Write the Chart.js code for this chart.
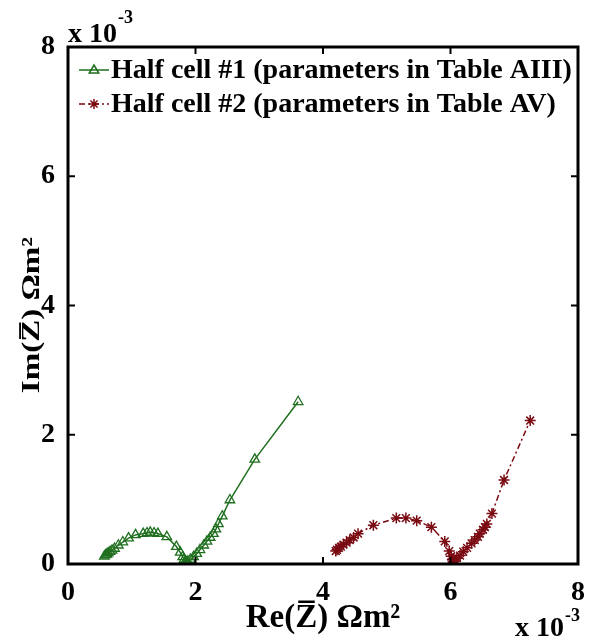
<!DOCTYPE html>
<html>
<head>
<meta charset="utf-8">
<script src="https://cdn.jsdelivr.net/npm/chart.js@4.4.1/dist/chart.umd.min.js"></script>
<style>
html,body{margin:0;padding:0;background:#fff;}
#wrap{width:595px;height:637px;position:relative;}
</style>
</head>
<body>
<div id="wrap"><canvas id="c" width="595" height="637"></canvas></div>
<script>
// Values in units of 1e-3 (as shown by the axis multipliers)
const seriesNames = ['Half cell #1 (parameters in Table AIII)', 'Half cell #2 (parameters in Table AV)'];
const re1 = [0.57,0.59,0.61,0.63,0.66,0.69,0.73,0.79,0.86,0.95,1.06,1.18,1.24,1.29,1.35,1.41,1.55,1.70,1.76,1.80,1.82,1.84,1.85,1.86,1.88,1.92,1.97,2.02,2.07,2.13,2.18,2.23,2.28,2.32,2.36,2.42,2.54,2.93,3.61];
const im1 = [0.12,0.14,0.15,0.17,0.19,0.21,0.24,0.29,0.34,0.40,0.45,0.47,0.48,0.49,0.48,0.47,0.42,0.27,0.18,0.11,0.07,0.04,0.03,0.03,0.04,0.07,0.11,0.16,0.22,0.29,0.35,0.41,0.47,0.54,0.62,0.74,0.99,1.62,2.51];
const re2 = [4.20,4.22,4.25,4.28,4.32,4.37,4.42,4.48,4.55,4.79,5.15,5.30,5.47,5.70,5.91,5.98,6.01,6.03,6.04,6.05,6.07,6.10,6.15,6.20,6.26,6.33,6.38,6.43,6.46,6.51,6.54,6.57,6.65,6.84,7.25];
const im2 = [0.20,0.22,0.25,0.27,0.30,0.33,0.37,0.41,0.47,0.60,0.71,0.71,0.67,0.57,0.35,0.20,0.12,0.07,0.04,0.04,0.06,0.09,0.13,0.19,0.25,0.32,0.37,0.42,0.47,0.53,0.57,0.62,0.78,1.30,2.22];
const xTicks = [0,2,4,6,8];
const yTicks = [0,2,4,6,8];
const xTitle = 'Re(Z\u0305) \u03A9m\u00B2';
const yTitle = 'Im(Z\u0305) \u03A9m\u00B2';
const expBase = 'x 10';
const expPow = '-3';

const GREEN = '#1f6f1f';
const RED = '#7a0a12';
const FONT = '"Liberation Serif","Times New Roman",serif';

const pts = (xs, ys) => xs.map((v,i)=>({x:v, y:ys[i]}));

function drawMarker(ctx, style, x, y, r, color){
  ctx.save();
  ctx.strokeStyle = color; ctx.lineWidth = 1.5; ctx.setLineDash([]);
  ctx.beginPath();
  if(style==='triangle'){
    ctx.moveTo(x, y - r);
    ctx.lineTo(x + r*0.95, y + r*0.6);
    ctx.lineTo(x - r*0.95, y + r*0.6);
    ctx.closePath();
  } else {
    for(let k=0;k<4;k++){
      const a = k*Math.PI/4;
      ctx.moveTo(x - r*Math.cos(a), y - r*Math.sin(a));
      ctx.lineTo(x + r*Math.cos(a), y + r*Math.sin(a));
    }
  }
  ctx.stroke();
  ctx.restore();
}

const decor = {
  id: 'decor',
  afterDraw(chart){
    const {ctx, chartArea: a, scales: {x, y}} = chart;
    ctx.save();
    // box
    ctx.strokeStyle = '#000'; ctx.lineWidth = 3;
    ctx.strokeRect(a.left, a.top, a.right - a.left, a.bottom - a.top);
    // inward ticks
    ctx.lineWidth = 2;
    ctx.beginPath();
    xTicks.forEach(v => {
      const p = x.getPixelForValue(v);
      ctx.moveTo(p, a.bottom); ctx.lineTo(p, a.bottom - 7);
      ctx.moveTo(p, a.top); ctx.lineTo(p, a.top + 7);
    });
    yTicks.forEach(v => {
      const p = y.getPixelForValue(v);
      ctx.moveTo(a.left, p); ctx.lineTo(a.left + 7, p);
      ctx.moveTo(a.right, p); ctx.lineTo(a.right - 7, p);
    });
    ctx.stroke();
    // legend
    const rows = [
      {name: seriesNames[0], color: GREEN, dash: [], marker: 'triangle', y: 78},
      {name: seriesNames[1], color: RED, dash: [6,3,2,3], marker: 'star', y: 112}
    ];
    ctx.font = 'bold 28px ' + FONT;
    ctx.textBaseline = 'alphabetic';
    ctx.textAlign = 'left';
    rows.forEach(r => {
      const ly = r.y - 8;
      ctx.save();
      ctx.strokeStyle = r.color; ctx.lineWidth = 1.5; ctx.setLineDash(r.dash);
      ctx.beginPath(); ctx.moveTo(79, ly); ctx.lineTo(109, ly); ctx.stroke();
      ctx.restore();
      drawMarker(ctx, r.marker, 94, ly, 5, r.color);
      ctx.fillStyle = '#000';
      ctx.fillText(r.name, 111, r.y);
    });
    // axis titles
    ctx.fillStyle = '#000';
    ctx.font = 'bold 33px ' + FONT;
    ctx.textAlign = 'center';
    ctx.fillText(xTitle, (a.left + a.right) / 2, 627);
    ctx.save();
    ctx.translate(39, 315);
    ctx.rotate(-Math.PI / 2);
    ctx.scale(1, 0.74);
    ctx.fillText(yTitle, 0, 0);
    ctx.restore();
    // exponent labels
    ctx.textAlign = 'left';
    ctx.font = 'bold 28px ' + FONT;
    ctx.fillText(expBase, 68, 42);
    let w = ctx.measureText(expBase).width;
    ctx.font = 'bold 18px ' + FONT;
    ctx.fillText(expPow, 68 + w + 1, 23);
    ctx.font = 'bold 28px ' + FONT;
    ctx.fillText(expBase, 515, 636);
    w = ctx.measureText(expBase).width;
    ctx.font = 'bold 18px ' + FONT;
    ctx.fillText(expPow, 515 + w + 1, 621);
    ctx.restore();
  }
};

new Chart(document.getElementById('c'), {
  type: 'line',
  data: {
    datasets: [
      {
        label: seriesNames[0],
        data: pts(re1, im1),
        borderColor: GREEN,
        borderWidth: 1.5,
        pointStyle: 'triangle',
        pointRadius: 5.5,
        pointBorderWidth: 1.3,
        pointBorderColor: GREEN,
        pointBackgroundColor: 'rgba(0,0,0,0)',
        fill: false,
        tension: 0
      },
      {
        label: seriesNames[1],
        data: pts(re2, im2),
        borderColor: RED,
        borderWidth: 1.5,
        borderDash: [6,3,2,3],
        pointStyle: 'star',
        pointRadius: 5.5,
        pointBorderWidth: 1.5,
        pointBorderColor: RED,
        pointBackgroundColor: RED,
        fill: false,
        tension: 0
      }
    ]
  },
  options: {
    responsive: false,
    animation: false,
    layout: {padding: {top: 47, right: 17, left: 0, bottom: 0}},
    plugins: {legend: {display: false}, tooltip: {enabled: false}},
    scales: {
      x: {
        type: 'linear', min: 0, max: 8,
        afterBuildTicks(s){ s.ticks = xTicks.map(v => ({value: v})); },
        afterFit(s){ s.height = 73; },
        grid: {display: false},
        border: {display: false},
        ticks: {color: '#000', padding: 4, font: {family: FONT, weight: 'bold', size: 28}},
        title: {display: false}
      },
      y: {
        type: 'linear', min: 0, max: 8,
        afterBuildTicks(s){ s.ticks = yTicks.map(v => ({value: v})); },
        afterFit(s){ s.width = 68; },
        grid: {display: false},
        border: {display: false},
        ticks: {color: '#000', padding: 5, font: {family: FONT, weight: 'bold', size: 28}},
        title: {display: false}
      }
    }
  },
  plugins: [decor]
});
</script>
</body>
</html>
